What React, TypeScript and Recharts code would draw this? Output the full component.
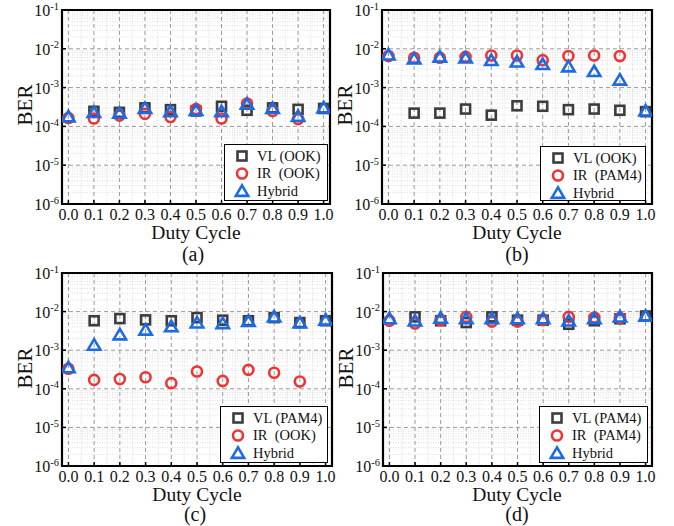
import React from 'react';
import { ScatterChart, Scatter, XAxis, YAxis, CartesianGrid, ReferenceArea, Legend } from 'recharts';

const FONT = "'Liberation Serif', 'Times New Roman', serif";

const dutyCycle = [0, 0.1, 0.2, 0.3, 0.4, 0.5, 0.6, 0.7, 0.8, 0.9, 1.0];
const xTicks = [0, 0.1, 0.2, 0.3, 0.4, 0.5, 0.6, 0.7, 0.8, 0.9, 1.0];
const yTicks = [1e-6, 1e-5, 1e-4, 1e-3, 1e-2, 1e-1];

// Panel (a): VL (OOK), IR (OOK)
const vlA = [null, 2.45e-4, 2.3e-4, 3.0e-4, 2.7e-4, 2.5e-4, 3.3e-4, 2.6e-4, 3.0e-4, 2.75e-4, 2.9e-4];
const irA = [1.65e-4, 1.6e-4, 1.9e-4, 2.1e-4, 1.75e-4, 2.8e-4, 1.6e-4, 3.9e-4, 2.5e-4, 1.55e-4, null];
const hyA = [1.7e-4, 2.2e-4, 2.1e-4, 2.8e-4, 2.3e-4, 2.5e-4, 2.3e-4, 3.6e-4, 2.8e-4, 1.75e-4, 2.9e-4];

// Panel (b): VL (OOK), IR (PAM4)
const vlB = [null, 2.2e-4, 2.2e-4, 2.8e-4, 1.95e-4, 3.4e-4, 3.3e-4, 2.7e-4, 2.8e-4, 2.6e-4, 2.4e-4];
const irB = [6.5e-3, 5.9e-3, 5.9e-3, 6.2e-3, 6.7e-3, 6.7e-3, 5.1e-3, 6.5e-3, 6.7e-3, 6.5e-3, null];
const hyB = [6.7e-3, 5.3e-3, 5.9e-3, 5.6e-3, 4.8e-3, 4.4e-3, 3.8e-3, 3.3e-3, 2.5e-3, 1.5e-3, 2.4e-4];

// Panel (c): VL (PAM4), IR (OOK)
const vlC = [null, 5.8e-3, 6.6e-3, 6.1e-3, 5.8e-3, 7.0e-3, 6.0e-3, 5.8e-3, 7.0e-3, 5.2e-3, 5.8e-3];
const irC = [3.3e-4, 1.7e-4, 1.8e-4, 2.0e-4, 1.4e-4, 2.8e-4, 1.6e-4, 3.1e-4, 2.6e-4, 1.55e-4, null];
const hyC = [3.4e-4, 1.3e-3, 2.4e-3, 3.2e-3, 3.9e-3, 4.9e-3, 4.7e-3, 5.4e-3, 7.0e-3, 4.9e-3, 5.8e-3];

// Panel (d): VL (PAM4), IR (PAM4)
const vlD = [null, 7.3e-3, 5.8e-3, 5.2e-3, 7.3e-3, 6.0e-3, 6.0e-3, 4.7e-3, 5.8e-3, 6.5e-3, 7.7e-3];
const irD = [5.8e-3, 4.9e-3, 6.0e-3, 7.3e-3, 5.5e-3, 5.5e-3, 6.0e-3, 7.3e-3, 7.0e-3, 6.8e-3, null];
const hyD = [6.3e-3, 5.5e-3, 6.5e-3, 6.3e-3, 6.3e-3, 6.3e-3, 6.3e-3, 5.5e-3, 6.3e-3, 7.0e-3, 7.3e-3];

const legendA = ['VL (OOK)', 'IR  (OOK)', 'Hybrid'];
const legendB = ['VL (OOK)', 'IR  (PAM4)', 'Hybrid'];
const legendC = ['VL (PAM4)', 'IR  (OOK)', 'Hybrid'];
const legendD = ['VL (PAM4)', 'IR  (PAM4)', 'Hybrid'];

const minorY: number[] = [];
for (let d = -6; d <= -2; d++) for (let k = 2; k <= 9; k++) minorY.push(k * Math.pow(10, d));
const minorX = [0.05, 0.15, 0.25, 0.35, 0.45, 0.55, 0.65, 0.75, 0.85, 0.95];

const toPoints = (vals: (number | null)[]) =>
  dutyCycle.map((x, i) => ({ x, y: vals[i] })).filter((p) => p.y != null);

const SQ = '#3d3d3d';
const RD = '#ef3434';
const BL = '#1c6ae4';

const SquareMark = ({ cx, cy }: any) => (
  <rect x={cx - 4.5} y={cy - 4.5} width={9} height={9} fill="none" stroke={SQ} strokeWidth={2.6} />
);
const CircleMark = ({ cx, cy }: any) => (
  <circle cx={cx} cy={cy} r={5} fill="none" stroke={RD} strokeWidth={2.6} />
);
const TriMark = ({ cx, cy }: any) => (
  <path
    d={`M${cx},${cy - 6.6} L${cx - 6.2},${cy + 3.9} L${cx + 6.2},${cy + 3.9} Z`}
    fill="none"
    stroke={BL}
    strokeWidth={2.6}
    strokeLinejoin="miter"
  />
);

const YTick = (props: any) => {
  const { x, y, payload } = props;
  const exp = Math.round(Math.log10(payload.value));
  return (
    <g>
      <line x1={x} x2={x + 4} y1={y} y2={y} stroke="#000" strokeWidth={1.5} />
      <text x={x - 3} y={y + 6} textAnchor="end" fontFamily={FONT} fontSize={16} fill="#111">
        <tspan>10</tspan>
        <tspan dy={-6.5} fontSize={10.5}>{String(exp)}</tspan>
      </text>
    </g>
  );
};

const XTick = (props: any) => {
  const { x, y, payload } = props;
  return (
    <g>
      <line x1={x} x2={x} y1={y} y2={y - 4} stroke="#000" strokeWidth={1.5} />
      <text x={x} y={y + 15.5} textAnchor="middle" fontFamily={FONT} fontSize={16} fill="#111">
        {Number(payload.value).toFixed(1)}
      </text>
    </g>
  );
};

const LegendBox = ({ labels, w, h }: { labels: string[]; w: number; h: number }) => {
  const rows = [11, 28.5, 46];
  return (
    <div
      style={{
        width: w,
        height: h,
        border: '1.5px solid #000',
        background: '#fff',
        boxSizing: 'border-box',
        position: 'relative',
      }}
    >
      <svg width={w - 3} height={h - 3} style={{ position: 'absolute', left: 0, top: 0, overflow: 'visible' }}>
        <SquareMark cx={17} cy={rows[0]} />
        <CircleMark cx={17} cy={rows[1]} />
        <TriMark cx={17} cy={rows[2] + 1} />
        {labels.map((t, i) => (
          <text
            key={i}
            x={32}
            y={rows[i] + 4.5}
            fontFamily={FONT}
            fontSize={14.5}
            fill="#111"
            style={{ whiteSpace: 'pre' }}
          >
            {t}
          </text>
        ))}
      </svg>
    </div>
  );
};

type PanelProps = {
  left: number;
  top: number;
  W: number;
  H: number;
  plot: { l: number; t: number; r: number; b: number };
  vl: (number | null)[];
  ir: (number | null)[];
  hy: (number | null)[];
  labels: string[];
  legendRect: { x: number; y: number; w: number; h: number };
};

const Panel = ({ left, top, W, H, plot, vl, ir, hy, labels, legendRect }: PanelProps) => {
  const xAxisH = 30;
  const margin = {
    top: plot.t - top,
    right: left + W - plot.r,
    left: 0,
    bottom: top + H - plot.b - xAxisH,
  };
  return (
    <div style={{ position: 'absolute', left, top, width: W, height: H }}>
      <ScatterChart width={W} height={H} margin={margin}>
        <CartesianGrid
          horizontalValues={minorY}
          verticalValues={minorX}
          stroke="#d4d4d4"
          strokeDasharray="1 1.5"
          strokeWidth={0.8}
        />
        <CartesianGrid stroke="#9a9a9a" strokeDasharray="4 3" strokeWidth={1} />
        <XAxis
          type="number"
          dataKey="x"
          domain={[-0.025, 1.025]}
          ticks={xTicks}
          interval={0}
          allowDataOverflow
          height={xAxisH}
          tickLine={false}
          axisLine={false}
          tickSize={0}
          tickMargin={0}
          tick={<XTick />}
        />
        <YAxis
          type="number"
          dataKey="y"
          scale="log"
          domain={[1e-6, 1e-1]}
          ticks={yTicks}
          interval={0}
          allowDataOverflow
          width={plot.l - left}
          tickLine={false}
          axisLine={false}
          tickSize={0}
          tickMargin={0}
          tick={<YTick />}
        />
        <ReferenceArea
          x1={-0.025}
          x2={1.025}
          y1={1e-6}
          y2={1e-1}
          fill="none"
          fillOpacity={0}
          stroke="#000"
          strokeWidth={2.2}
          ifOverflow="visible"
        />
        <Scatter data={toPoints(vl)} isAnimationActive={false} shape={(p: any) => <SquareMark cx={p.cx} cy={p.cy} />} />
        <Scatter data={toPoints(ir)} isAnimationActive={false} shape={(p: any) => <CircleMark cx={p.cx} cy={p.cy} />} />
        <Scatter data={toPoints(hy)} isAnimationActive={false} shape={(p: any) => <TriMark cx={p.cx} cy={p.cy} />} />
        <Legend
          layout="horizontal"
          verticalAlign="middle"
          align="center"
          wrapperStyle={{ left: legendRect.x, top: legendRect.y, width: legendRect.w, height: legendRect.h }}
          content={() => <LegendBox labels={labels} w={legendRect.w} h={legendRect.h} />}
        />
      </ScatterChart>
    </div>
  );
};

const TextOverlay = () => {
  const ber = [
    [25, 105],
    [345, 105],
    [25, 368],
    [346, 368],
  ];
  const duty = [
    [196, 239],
    [517, 239],
    [197, 501],
    [517, 501],
  ];
  const sub = [
    [193, 261, '(a)'],
    [517, 261, '(b)'],
    [195, 521, '(c)'],
    [517, 521, '(d)'],
  ];
  return (
    <svg width={674} height={526} style={{ position: 'absolute', left: 0, top: 0, pointerEvents: 'none' }}>
      {ber.map(([x, y], i) => (
        <text
          key={'b' + i}
          x={x}
          y={y}
          transform={`rotate(-90, ${x}, ${y})`}
          textAnchor="middle"
          dominantBaseline="central"
          fontFamily={FONT}
          fontSize={21}
          fill="#111"
        >
          BER
        </text>
      ))}
      {duty.map(([x, y], i) => (
        <text key={'d' + i} x={x} y={y} textAnchor="middle" fontFamily={FONT} fontSize={19.5} fill="#111">
          Duty Cycle
        </text>
      ))}
      {sub.map(([x, y, t], i) => (
        <text key={'s' + i} x={x as number} y={y as number} textAnchor="middle" fontFamily={FONT} fontSize={20} fill="#111">
          {t}
        </text>
      ))}
    </svg>
  );
};

export default function App() {
  return (
    <div style={{ position: 'absolute', left: 0, top: 0, width: 674, height: 526, background: '#fff' }}>
      <Panel
        left={0}
        top={0}
        W={337}
        H={260}
        plot={{ l: 62, t: 10, r: 330, b: 204 }}
        vl={vlA}
        ir={irA}
        hy={hyA}
        labels={legendA}
        legendRect={{ x: 224, y: 144, w: 104, h: 57 }}
      />
      <Panel
        left={337}
        top={0}
        W={337}
        H={260}
        plot={{ l: 382, t: 10, r: 652, b: 204 }}
        vl={vlB}
        ir={irB}
        hy={hyB}
        labels={legendB}
        legendRect={{ x: 203, y: 146, w: 106, h: 55 }}
      />
      <Panel
        left={0}
        top={260}
        W={337}
        H={266}
        plot={{ l: 62, t: 273, r: 332, b: 466 }}
        vl={vlC}
        ir={irC}
        hy={hyC}
        labels={legendC}
        legendRect={{ x: 220, y: 146, w: 108, h: 57 }}
      />
      <Panel
        left={337}
        top={260}
        W={337}
        H={266}
        plot={{ l: 383, t: 273, r: 652, b: 466 }}
        vl={vlD}
        ir={irD}
        hy={hyD}
        labels={legendD}
        legendRect={{ x: 202, y: 146, w: 109, h: 57 }}
      />
      <TextOverlay />
    </div>
  );
}
